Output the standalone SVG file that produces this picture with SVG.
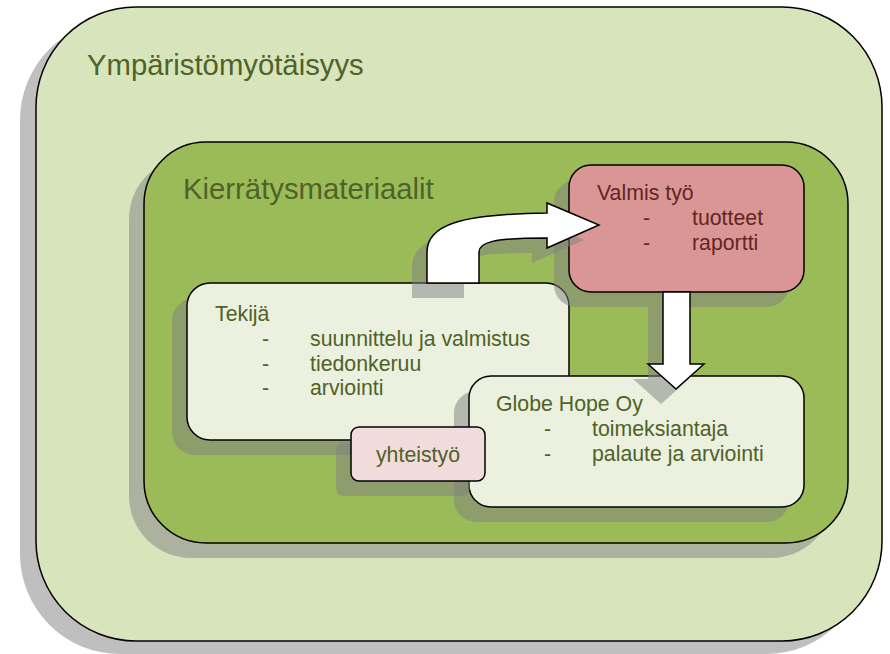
<svg xmlns="http://www.w3.org/2000/svg" width="890" height="654" viewBox="0 0 890 654">
<style>
.sh{fill:#808080;fill-opacity:.5;stroke:none}
.bx{stroke:#000;stroke-width:1.5}
.t{font-family:"Liberation Sans",Arial,sans-serif;fill:#4f6228}
.big{font-size:29.3px}
.sm{font-size:21.3px}
.red{fill:#632523}
.arr{fill:#fff;stroke:#000;stroke-width:1.5;stroke-linejoin:miter}
</style>
<rect width="890" height="654" fill="#fff"/>
<g id="outer">
<rect class="sh" x="20" y="20" width="846" height="634" rx="100"/>
<rect class="bx" x="36" y="7" width="846" height="634" rx="100" fill="#d8e4bc"/>
<text class="t big" x="87" y="75">Ympäristömyötäisyys</text>
</g>
<g id="inner">
<rect class="sh" x="129" y="157" width="704" height="401" rx="62"/>
<rect class="bx" x="144" y="142" width="704" height="401" rx="62" fill="#9bbb59"/>
<text class="t big" x="183" y="199">Kierrätysmateriaalit</text>
</g>
<g id="tekija">
<rect class="sh" x="172" y="298" width="382" height="157" rx="23"/>
<rect class="bx" x="187" y="283" width="382" height="157" rx="23" fill="#ebf1de"/>
<text class="t sm" x="215" y="321">Tekijä</text>
<text class="t sm" x="262" y="346">-</text>
<text class="t sm" x="310" y="346">suunnittelu ja valmistus</text>
<text class="t sm" x="262" y="370.5">-</text>
<text class="t sm" x="310" y="370.5">tiedonkeruu</text>
<text class="t sm" x="262" y="395">-</text>
<text class="t sm" x="310" y="395">arviointi</text>
</g>
<g id="valmis">
<rect class="sh" x="554" y="180" width="235" height="127" rx="22"/>
<rect class="bx" x="569" y="165" width="235" height="127" rx="22" fill="#d99694"/>
<text class="t sm red" x="597" y="200">Valmis työ</text>
<text class="t sm red" x="643" y="225">-</text>
<text class="t sm red" x="692" y="225">tuotteet</text>
<text class="t sm red" x="643" y="250">-</text>
<text class="t sm red" x="692" y="250">raportti</text>
</g>
<g id="globe">
<rect class="sh" x="454" y="391" width="335" height="131" rx="22"/>
<rect class="bx" x="469" y="376" width="335" height="131" rx="22" fill="#ebf1de"/>
<text class="t sm" x="496" y="411">Globe Hope Oy</text>
<text class="t sm" x="544" y="436">-</text>
<text class="t sm" x="592" y="436">toimeksiantaja</text>
<text class="t sm" x="544" y="460.5">-</text>
<text class="t sm" x="592" y="460.5">palaute ja arviointi</text>
</g>
<g id="yhteistyo">
<rect class="sh" x="336" y="442" width="134" height="54" rx="8"/>
<rect class="bx" x="351" y="427" width="134" height="54" rx="8" fill="#f2dcdb"/>
<text class="t sm" x="418" y="462" text-anchor="middle">yhteistyö</text>
</g>
<g id="connectors">
<path class="sh" transform="translate(-15,15)" d="M427,283 L427,252 C427,225 460,214 547,213 L547,203 L599,225 L547,248 L547,238 C490,238 479,243 479,252 L479,283 Z"/>
<path class="arr" d="M427,283 L427,252 C427,225 460,214 547,213 L547,203 L599,225 L547,248 L547,238 C490,238 479,243 479,252 L479,283 Z"/>
<path class="sh" transform="translate(-15,15)" d="M663,292 L690,292 L690,364 L704,364 L676,389 L648,364 L663,364 Z"/>
<path class="arr" d="M663,292 L690,292 L690,364 L704,364 L676,389 L648,364 L663,364 Z"/>
</g>
</svg>
